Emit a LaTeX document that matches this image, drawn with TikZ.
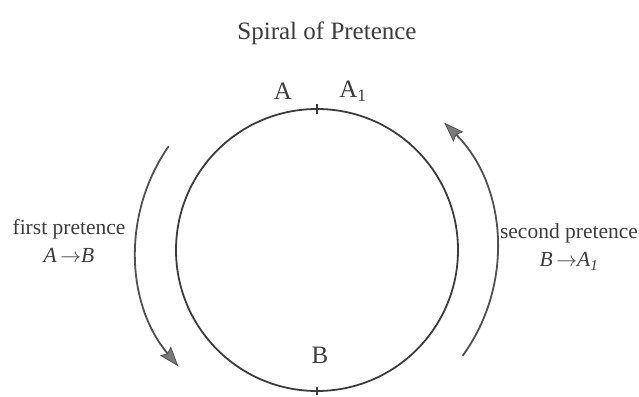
\documentclass[tikz,border=0pt]{standalone}
\usepackage{fontspec}
\setmainfont{Liberation Serif}
\usetikzlibrary{arrows.meta}
\definecolor{ink}{HTML}{3C3C3C}
\definecolor{arcink}{HTML}{505050}
\definecolor{tipfill}{HTML}{7A7A7A}
\tikzset{
  ring/.style={draw=ink, line width=1.8pt},
  flow/.style={draw=arcink, line width=1.8pt,
    -{Stealth[length=20pt,width=14pt,inset=3pt,fill=tipfill,line width=0.8pt]}},
  tick/.style={draw=ink, line width=1.2pt},
  lbl/.style={font=\fontsize{25}{28}\selectfont, text=ink, inner sep=0pt},
  side/.style={font=\fontsize{21.5}{28}\selectfont, text=ink, align=center, inner sep=0pt},
  ttl/.style={font=\fontsize{25}{28}\selectfont, text=ink, inner sep=0pt}
}
\begin{document}
\begin{tikzpicture}[x=1pt,y=1pt]
\useasboundingbox (0,0) rectangle (639,396);
\coordinate (c) at (317,146);
\node[ttl] (title) at (327,363) {Spiral of Pretence};
\draw[ring] (c) circle[radius=141];
\coordinate (top) at (317,287);
\coordinate (bot) at (317,5);
\draw[tick] ([yshift=-5]top) -- ([yshift=5]top);
\draw[tick] ([yshift=-4]bot) -- ([yshift=4]bot);
\node[lbl] (A) at (283,305) {A};
\node[lbl] (A1) at (353,305) {A\textsubscript{1}};
\node[lbl] (B) at (320,41) {B};
\draw[flow] ([shift={(145:181)}]c) arc[start angle=145,end angle=220,radius=181];
\draw[flow] ([shift={(-36:180)}]c) arc[start angle=-36,end angle=45,radius=180];
\node[side] (first) at (69,155) {first pretence\\\textit{A}\,$\rightarrow$\textit{B}};
\node[side] (second) at (569,149) {second pretence\\\textit{B}\,$\rightarrow$\textit{A\textsubscript{1}}};
\end{tikzpicture}
\end{document}
